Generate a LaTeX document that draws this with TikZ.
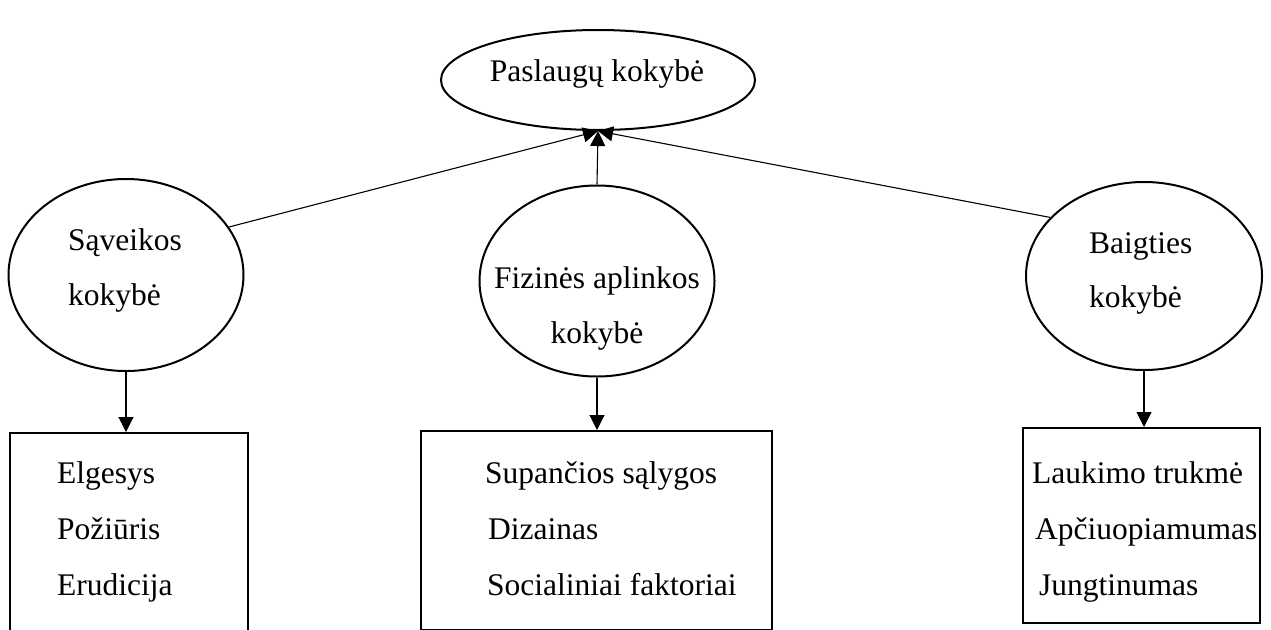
\documentclass[tikz,border=0pt]{standalone}
\usepackage{fontspec}
\setmainfont{Liberation Serif}
\usetikzlibrary{shapes.geometric,arrows.meta}
\tikzset{
  oval/.style={draw, ellipse, line width=2pt, inner sep=0pt},
  listbox/.style={draw, rectangle, line width=2pt, inner sep=0pt},
  lbl/.style={inner sep=0pt, font=\fontsize{31.5}{38}\selectfont},
  conn/.style={line width=1.1pt, -{Triangle[length=15pt,width=15pt]}}
}
\begin{document}
\begin{tikzpicture}[x=1pt,y=-1pt]
\useasboundingbox (0,0) rectangle (1271,629);
\clip (0,0) rectangle (1271,629);
\fill[white] (0,0) rectangle (1271,629);

% ellipses
\node[oval, minimum width=314pt, minimum height=100pt] (top) at (598,80) {};
\node[oval, minimum width=235pt, minimum height=192pt] (sav) at (126,275) {};
\node[oval, minimum width=235pt, minimum height=191pt] (fiz) at (597,281) {};
\node[oval, minimum width=236pt, minimum height=188pt] (bai) at (1144,276) {};

% boxes
\node[listbox, minimum width=238pt, minimum height=240pt] (lbox) at (129,553) {};
\node[listbox, minimum width=351pt, minimum height=199pt] (mbox) at (596.5,530.5) {};
\node[listbox, minimum width=237pt, minimum height=195pt] (rbox) at (1141.5,525.5) {};

% ellipse texts
\node[lbl, anchor=base] (ttop) at (597,81) {Paslaugų kokybė};
\node[lbl, anchor=base west] (tsav1) at (68,250) {Sąveikos};
\node[lbl, anchor=base west] (tsav2) at (68,305) {kokybė};
\node[lbl, anchor=base] (tfiz1) at (597,288) {Fizinės aplinkos};
\node[lbl, anchor=base] (tfiz2) at (597,343) {kokybė};
\node[lbl, anchor=base west] (tbai1) at (1089,253) {Baigties};
\node[lbl, anchor=base west] (tbai2) at (1089,307) {kokybė};

% box texts
\node[lbl, anchor=base west] (l1) at (57,483) {Elgesys};
\node[lbl, anchor=base west] (l2) at (57,539) {Požiūris};
\node[lbl, anchor=base west] (l3) at (57,595) {Erudicija};
\node[lbl, anchor=base west] (m1) at (485,483) {Supančios sąlygos};
\node[lbl, anchor=base west] (m2) at (488,539) {Dizainas};
\node[lbl, anchor=base west] (m3) at (487,595) {Socialiniai faktoriai};
\node[lbl, anchor=base west] (r1) at (1032,483) {Laukimo trukmė};
\node[lbl, anchor=base west] (r2) at (1035,539) {Apčiuopiamumas};
\node[lbl, anchor=base west] (r3) at (1039,595) {Jungtinumas};

% connectors
\draw[conn] (sav.25) -- (top.south);
\draw[conn] (bai.148) -- (top.south);
\draw[conn] (fiz.north) -- (top.south);
\draw[conn] (sav.south) -- (sav.south |- lbox.north);
\draw[conn] (fiz.south) -- (fiz.south |- mbox.north);
\draw[conn] (bai.south) -- (bai.south |- rbox.north);
\end{tikzpicture}
\end{document}
